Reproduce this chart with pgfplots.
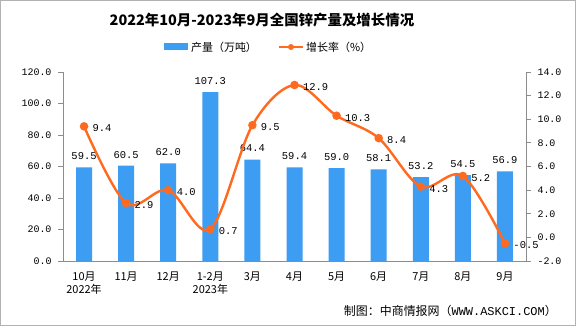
\documentclass[border=0pt]{standalone}
\usepackage{pgfplots}
\pgfplotsset{compat=1.18}
\usepackage{fontspec}
\setmainfont{Noto Sans CJK SC}
\newfontfamily\numfont{Liberation Mono}
\definecolor{barblue}{HTML}{3D9DF2}
\definecolor{lineorange}{HTML}{FF6A1F}
\definecolor{axisgray}{HTML}{8C8C8C}

\pgfplotstableread{
x prod growth
0 59.5 9.4
1 60.5 2.9
2 62.0 4.0
3 107.3 0.7
4 64.4 9.5
5 59.4 12.9
6 59.0 10.3
7 58.1 8.4
8 53.2 4.3
9 54.5 5.2
10 56.9 -0.5
}\datatable

\begin{document}
\begin{tikzpicture}
\useasboundingbox (0,0) rectangle (576bp,326bp);
\fill[white] (0,0) rectangle (576bp,326bp);
\draw[gray!60, line width=1bp] (0.5bp,0.5bp) rectangle (575.5bp,325.5bp);

\pgfplotsset{
  common/.style={
    at={(63bp,65bp)}, anchor=south west, scale only axis,
    width=463bp, height=189bp,
    xmin=-0.5, xmax=10.5,
    axis line style={axisgray, line width=0.8bp},
    tick style={axisgray, line width=0.8bp},
    tick align=outside,
    major tick length=5bp,
    /pgf/number format/assume math mode=true,
    yticklabel style={font=\fontsize{10}{12}\selectfont\numfont,
      /pgf/number format/fixed, /pgf/number format/fixed zerofill, /pgf/number format/precision=1},
  }
}

\begin{axis}[common,
  ymin=0, ymax=120, ytick={0,20,...,120},
  axis x line*=bottom, axis y line*=left,
  xtick={0,...,10},
  xtick style={draw=none},
  minor xtick={-0.5,0.5,...,10.5},
  minor tick length=5bp,
  minor x tick style={axisgray, line width=0.8bp},
  xticklabels={10月\\2022年,11月,12月,1-2月\\2023年,3月,4月,5月,6月,7月,8月,9月},
  xticklabel style={align=center, font=\fontsize{11}{13.5}\selectfont, yshift=-2bp},
  yticklabel style={xshift=-3bp},
]
\addplot[ybar, bar width=16bp, fill=barblue, draw=none,
  nodes near coords={\pgfmathprintnumber[fixed,fixed zerofill,precision=1]{\pgfplotspointmeta}},
  nodes near coords style={font=\fontsize{10.5}{12}\selectfont\numfont, text=black, anchor=south, yshift=4bp},
] table[x=x, y=prod] {\datatable};
\end{axis}

\begin{axis}[common,
  ymin=-2, ymax=14, ytick={-2,0,...,14},
  axis y line*=right, axis x line=none,
  xtick=\empty,
  yticklabel style={xshift=3bp},
]
\addplot[lineorange, line width=2.4bp, smooth, tension=0.55,
  mark=*, mark size=3bp, mark options={fill=lineorange, draw=lineorange},
  nodes near coords={\pgfmathprintnumber[fixed,fixed zerofill,precision=1]{\pgfplotspointmeta}},
  nodes near coords style={font=\fontsize{10.5}{12}\selectfont\numfont, text=black, anchor=west, xshift=4bp, yshift=-2bp},
] table[x=x, y=growth] {\datatable};
\end{axis}

% title
\node[font=\fontsize{14.5}{17}\selectfont\bfseries] at (262bp,306bp) {2022年10月-2023年9月全国锌产量及增长情况};
% legend
\fill[barblue] (164bp,275.5bp) rectangle (188bp,282.5bp);
\node[anchor=west, font=\fontsize{11}{13}\selectfont, inner sep=0pt] at (191bp,279bp) {产量（万吨）};
\draw[lineorange, line width=2.4bp] (279bp,279bp) -- (303bp,279bp);
\fill[lineorange] (291bp,279bp) circle (3bp);
\node[anchor=west, font=\fontsize{11}{13}\selectfont, inner sep=0pt] at (306bp,279bp) {增长率（\%）};
% source
\node[anchor=east, font=\fontsize{12}{14}\selectfont, inner sep=0pt] at (557bp,15bp) {制图：中商情报网（{\numfont WWW.ASKCI.COM}）};
\end{tikzpicture}
\end{document}
